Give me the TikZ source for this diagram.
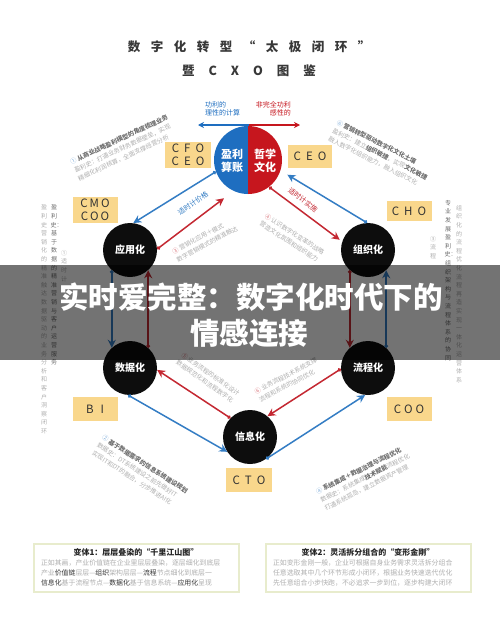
\documentclass[tikz,border=0pt]{standalone}
\usepackage{fontspec}
\setmainfont{Noto Sans CJK SC}
\usetikzlibrary{arrows.meta,calc}
\XeTeXlinebreaklocale "zh"
\XeTeXlinebreakskip=0pt plus 1pt
\definecolor{cblue}{RGB}{30,110,192}
\definecolor{cred}{RGB}{198,22,30}
\definecolor{ablue}{RGB}{52,125,196}
\definecolor{ared}{RGB}{196,40,50}
\definecolor{cxo}{RGB}{249,215,140}
\definecolor{boxline}{RGB}{232,236,205}
\definecolor{gtx}{RGB}{175,175,175}
\definecolor{gdk}{RGB}{110,110,110}
\newcommand\gp{\hspace{10.5pt}}
\newcommand\gq{\hspace{14pt}}
\newcommand\dk[1]{\textcolor{gdk}{\bfseries #1}}
\begin{document}
\begin{tikzpicture}[x=1pt,y=-1pt,
  hub/.style={circle, fill=black!95, minimum size=54pt, inner sep=0pt, text=white, font=\bfseries\fontsize{10}{12}\selectfont},
  cxobox/.style={fill=cxo, inner sep=0pt, align=center, text=black!80, font=\fontsize{11.5}{13}\selectfont},
  barr/.style={draw=ablue, line width=1.5pt, {Circle[length=3.5pt]}-{Stealth[length=8pt,width=8pt]}},
  rarr/.style={draw=ared, line width=1.5pt, {Circle[length=3.5pt]}-{Stealth[length=8pt,width=8pt]}},
  gblock/.style={font=\fontsize{6.2}{9.2}\selectfont, text=gtx, align=left, inner sep=0pt},
  vcol/.style={font=\fontsize{6}{8.6}\selectfont, text=gtx, text width=7pt, align=center, inner sep=0pt},
  small/.style={font=\fontsize{7}{8.5}\selectfont, inner sep=0pt}
]
\useasboundingbox (0,0) rectangle (500,629);
\fill[white] (0,0) rectangle (500,629);

% title
\node[font=\bfseries\fontsize{12.5}{14}\selectfont, text=black!78] (t1) at (249,47) {数\gp 字\gp 化\gp 转\gp 型\gp “\gp 太\gp 极\gp 闭\gp 环\gp ”};
\node[font=\bfseries\fontsize{12.5}{14}\selectfont, text=black!78] (t2) at (249,71) {暨\gq C\gq X\gq O\gq 图\gq 鉴};

% top double arrow
\coordinate (tl) at (198,125);
\coordinate (tm) at (249,125);
\coordinate (tr) at (300,125);
\draw[draw=cblue, line width=1.6pt, -{Stealth[length=6pt,width=6pt]}] (tm) -- (tl);
\draw[draw=cred, line width=1.6pt, -{Stealth[length=6pt,width=6pt]}] (tm) -- (tr);
\node[small, text=cblue, align=left, anchor=west] (lb1) at (205,109) {功利的\\理性的计算};
\node[small, text=cred, align=right, anchor=east] (lb2) at (291,109) {非完全功利\\感性的};

% centre circle
\node[circle, minimum size=68pt, inner sep=0pt] (ctr) at (248,160) {};
\fill[cblue] (248,126) arc[start angle=-90, end angle=-270, radius=34] -- cycle;
\fill[cred] (248,126) arc[start angle=-90, end angle=90, radius=34] -- cycle;
\node[font=\bfseries\fontsize{11}{13}\selectfont, text=white, align=center] (yl) at (232,161) {盈利\\算账};
\node[font=\bfseries\fontsize{11}{13}\selectfont, text=white, align=center] (zx) at (265,161) {哲学\\文化};

% CXO boxes
\node[cxobox, minimum width=46pt, minimum height=26pt] (cfo) at (188,155) {C\hspace{5pt}F\hspace{5pt}O\\C\hspace{5pt}E\hspace{5pt}O};
\node[cxobox, minimum width=44pt, minimum height=23pt] (ceo) at (310,156) {C\hspace{5pt}E\hspace{5pt}O};
\node[cxobox, minimum width=45pt, minimum height=26pt] (cmo) at (95,210) {C\hspace{2pt}M\hspace{2pt}O\\C\hspace{2pt}O\hspace{2pt}O};
\node[cxobox, minimum width=45pt, minimum height=20pt] (cho) at (409,211) {C\hspace{5pt}H\hspace{5pt}O};
\node[cxobox, minimum width=45pt, minimum height=24pt] (bi) at (95,409) {B\hspace{7pt}I};
\node[cxobox, minimum width=45pt, minimum height=24pt] (coo) at (409,409) {C\hspace{3pt}O\hspace{3pt}O};
\node[cxobox, minimum width=46pt, minimum height=24pt] (cto) at (249,480) {C\hspace{5pt}T\hspace{5pt}O};

% hubs
\node[hub] (app) at (130,250) {应用化};
\node[hub] (org) at (368,250) {组织化};
\node[hub] (data) at (130,368) {数据化};
\node[hub] (flow) at (368,368) {流程化};
\node[hub] (info) at (250,437) {信息化};

% connectors
\draw[barr] (ctr.200) -- (app.83);
\draw[rarr, shorten >=12pt] (app.2) -- (ctr.245);
\draw[barr, shorten >=8pt] (org.92) -- (ctr.-18);
\draw[rarr, shorten >=3pt] (ctr.-52) -- (org.162);
\draw[barr] (app.228) -- (data.132);
\draw[rarr] (data.48) -- (app.312);
\draw[rarr] (org.228) -- (flow.132);
\draw[barr] (flow.48) -- (org.312);
\draw[rarr] (info.136) -- (data.-4);
\draw[rarr] (flow.182) -- (info.50);
\draw[barr] (data.266) -- (info.213);
\draw[barr] (info.306) -- (flow.264);

\node[small, text=ablue, rotate=35] (al1) at (193,203) {适时计价格};
\node[small, text=ared, rotate=-38] (al2) at (303,200) {适时计实施};

% grey annotation blocks
\node[gblock, rotate=25] (ga) at (123,148) {\textcolor{ablue!60}{①} \dk{从商业战略盈利模型的角度梳理业务}\\盈利史：打通业务财务数据壁垒，实现\\精细化利润核算，全面支撑经营分析};
\node[gblock, rotate=-27] (gb) at (380,154) {\textcolor{ablue!60}{⑥} \dk{营销转型驱动数字化文化土壤}\\盈利史：建立\dk{组织敏捷}，实现\dk{文化敏捷}\\融入数字化组织能力，融入组织文化};
\node[gblock, rotate=28] (ge) at (205,240) {\textcolor{ared!60}{③} 营销化应用＋模式\\数字营销模式的精准触达};
\node[gblock, rotate=-33] (gf) at (292,238) {\textcolor{ared!60}{④} 认识数字化变革的战略\\营造文化氛围和组织能力};
\node[gblock, rotate=-35] (gg) at (208,378) {\textcolor{ared!60}{⑤} 业务流程的标准化设计\\数据规范化和流程数字化};
\node[gblock, rotate=28] (gh) at (288,380) {\textcolor{ared!60}{⑥} 业务流程技术系统支撑\\流程和系统的协同优化};
\node[gblock, rotate=-33] (gi) at (140,472) {\textcolor{ablue!60}{②} \dk{基于数据需求的信息系统建设规划}\\数据史：DT系统建设之前先做好IT\\实现IT和DT的融合，分步推进AI化};
\node[gblock, rotate=27] (gj) at (365,478) {\textcolor{ablue!60}{④} \dk{系统集成＋数据治理与流程优化}\\数据史：系统集成\dk{技术赋能}流程优化\\打通系统孤岛，建立数据资产管理};

% vertical text columns
\node[vcol, anchor=north] (v1) at (44,205) {盈利史营销化的精准触达数据驱动的业务分析和客户洞察闭环};
\node[vcol, anchor=north, text=gdk] (v2) at (54,205) {盈利史：基于数据的精准营销与客户运营服务};
\node[vcol, anchor=north] (v3) at (64,250) {①适时计};
\node[vcol, anchor=north] (v6) at (433,236) {③流程};
\node[vcol, anchor=north, text=gdk] (v7) at (448,200) {专业发展盈利史：组织架构与流程体系的协同};
\node[vcol, anchor=north] (v8) at (459,205) {组织化的流程优化流程再造实现一体化运营体系};

% banner
\fill[black, opacity=0.55] (0,265) rectangle (500,360);
\node[font=\bfseries\fontsize{29.5}{34}\selectfont, text=white] (b1) at (251,297) {实时爱完整：数字化时代下的};
\node[font=\bfseries\fontsize{29.5}{34}\selectfont, text=white] (b2) at (249,333) {情感连接};

% bottom boxes
\node[draw=boxline, line width=2pt, fill=white, minimum width=205pt, minimum height=48pt] (bx1) at (136.5,567.5) {};
\node[draw=boxline, line width=2pt, fill=white, minimum width=205pt, minimum height=48pt] (bx2) at (368.5,567.5) {};
\node[font=\bfseries\fontsize{8}{9}\selectfont, text=black!85] (bt1) at (136,552) {变体1：层层叠染的“千里江山图”};
\node[font=\bfseries\fontsize{8}{9}\selectfont, text=black!85] (bt2) at (368,552) {变体2：灵活拆分组合的“变形金刚”};
\node[font=\fontsize{6.9}{10}\selectfont, text=gtx, align=left, text width=192pt, inner sep=0pt] (bp1) at (137,573) {正如其画，产业价值链在企业里层层叠染，逐层细化到底层\\产业\textcolor{black!80}{价值链}层层—\textcolor{black!80}{组织}架构层层—\textcolor{black!80}{流程}节点细化到底层一\\\textcolor{black!80}{信息化}基于流程节点—\textcolor{black!80}{数据化}基于信息系统—\textcolor{black!80}{应用化}呈现};
\node[font=\fontsize{6.9}{10}\selectfont, text=gtx, align=left, text width=192pt, inner sep=0pt] (bp2) at (369,573) {正如变形金刚一般，企业可根据自身业务需求灵活拆分组合\\任意选取其中几个环节形成小闭环，根据业务快速迭代优化\\先任意组合小步快跑，不必追求一步到位，逐步构建大闭环};
\end{tikzpicture}
\end{document}
